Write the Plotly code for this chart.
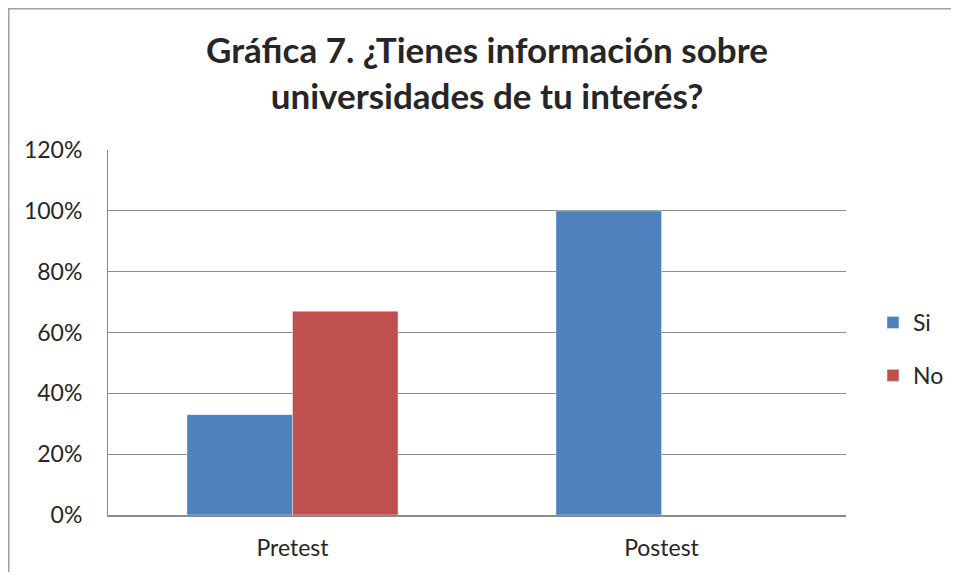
import plotly.graph_objects as go

# datos
categorias = ["Pretest", "Postest"]
si = [0.33, 1.00]
no = [0.67, 0.0]

AZUL = "#4F81BD"
ROJO = "#C0504D"
GRIS = "#8C8C8C"
FUENTE = "Lato, 'Open Sans', sans-serif"

ANCHO, ALTO = 943, 564

fig = go.Figure()
fig.add_trace(go.Bar(x=categorias, y=si, name="Si", marker_color=AZUL,
                     legendgroup="si"))
fig.add_trace(go.Bar(x=categorias, y=no, name="No", marker_color=ROJO,
                     legendgroup="no"))

# la página deja 8 px de margen al cuerpo: la figura empieza en (8, 8)
fig.update_layout(
    width=ANCHO, height=ALTO,
    margin=dict(l=100, r=ANCHO - 838, t=142, b=ALTO - 507),
    paper_bgcolor="white", plot_bgcolor="white",
    barmode="group", bargap=0.428, bargroupgap=0,
    font=dict(family=FUENTE, size=23, color="#262626"),
    title=dict(
        text="<b>Gráfica 7. ¿Tienes información sobre<br>universidades de tu interés?</b>",
        x=0.5136, xref="paper", xanchor="center",
        y=1 - 55 / ALTO, yref="container", yanchor="middle",
        font=dict(family=FUENTE, size=35, color="#262626"),
    ),
    legend=dict(
        xref="container", x=865 / ANCHO, xanchor="left",
        yref="container", y=1 - 341 / ALTO, yanchor="middle",
        traceorder="grouped", tracegroupgap=20,
        font=dict(size=23), itemwidth=30,
    ),
    showlegend=True,
)

fig.update_yaxes(
    range=[0, 1.2], dtick=0.2, tickformat=".0%",
    showgrid=True, gridcolor=GRIS, gridwidth=1,
    showline=True, linecolor=GRIS, linewidth=1,
    ticks="", ticklabelstandoff=20, zeroline=False,
)
fig.update_xaxes(
    showline=True, linecolor=GRIS, linewidth=1.5,
    ticks="", ticklabelstandoff=12,
)

# marco gris de la gráfica (solo lados izquierdo y superior visibles)
marco = dict(color="#A0A0A0", width=3)
fig.add_shape(type="line", xref="paper", yref="paper",
              x0=-100 / 738, x1=1 + (ANCHO - 838) / 738,
              y0=1 + 142 / 365, y1=1 + 142 / 365, line=marco)
fig.add_shape(type="line", xref="paper", yref="paper",
              x0=-100 / 738, x1=-100 / 738,
              y0=-(ALTO - 507) / 365, y1=1 + 142 / 365, line=marco)

fig.write_html("out.html")
